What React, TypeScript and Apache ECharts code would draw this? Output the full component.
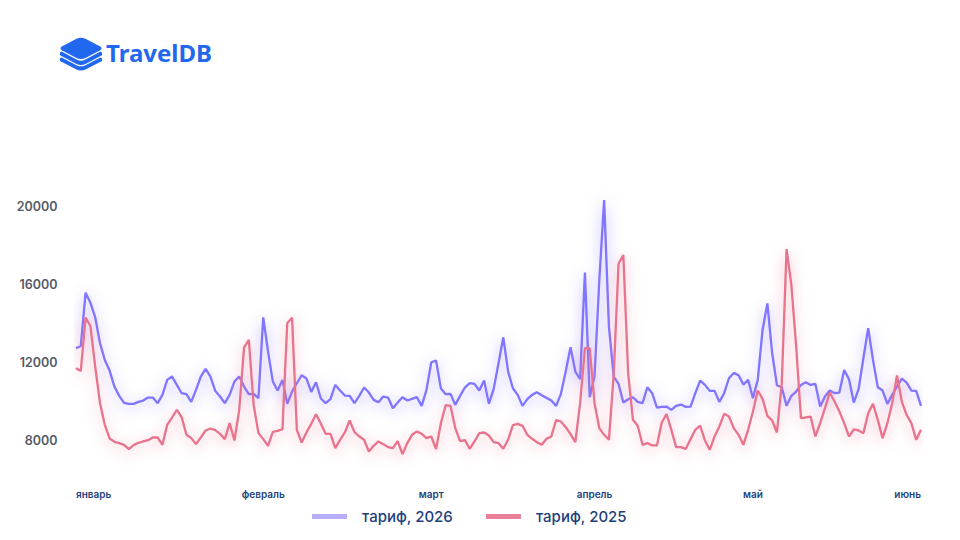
import React, { useEffect, useRef } from "react";
import * as echarts from "echarts";

const tariff2026 = [
  12735, 12854, 15574, 15064, 14316, 12990, 12140, 11596, 10780, 10304, 9947, 9896, 9896, 9998, 10066, 10219, 10219, 9930, 10355, 11120,
  11290, 10865, 10440, 10389, 9998, 10610, 11290, 11681, 11290, 10559, 10270, 9930, 10355, 11035, 11290, 10780, 10389, 10406, 10185, 14316,
  12565, 11035, 10576, 11120, 9896, 10525, 10950, 11358, 11188, 10508, 11001, 10168, 9930, 10134, 10865, 10576, 10321, 10304, 9930, 10304,
  10729, 10474, 10100, 9981, 10270, 10219, 9675, 9964, 10236, 10066, 10151, 10236, 9794, 10610, 12021, 12106, 10678, 10389, 10406, 9845,
  10304, 10729, 10950, 10916, 10576, 11086, 9896, 10661, 11970, 13296, 11545, 10695, 10355, 9794, 10134, 10355, 10491, 10338, 10202, 10066,
  9794, 10406, 11545, 12786, 11545, 11154, 16600, 10236, 11290, 16220, 20300, 13840, 11290, 10916, 9964, 10134, 10236, 9998, 9930, 10746,
  10440, 9709, 9743, 9760, 9590, 9794, 9862, 9743, 9760, 10440, 11086, 10865, 10559, 10559, 9998, 10440, 11205, 11477, 11358, 10882,
  11120, 10185, 11120, 13670, 15030, 12480, 10848, 10746, 9794, 10304, 10525, 10865, 11001, 10865, 10916, 9760, 10270, 10576, 10440, 10474,
  11630, 11154, 9964, 10644, 12225, 13755, 12140, 10746, 10576, 9896, 10355, 10780, 11188, 10984, 10576, 10559, 9794,
];

const tariff2025 = [
  11715, 11579, 14299, 13874, 11800, 9930, 8825, 8128, 7958, 7890, 7805, 7584, 7788, 7907, 7975, 8043, 8179, 8179, 7805, 8825,
  9199, 9590, 9216, 8315, 8145, 7839, 8179, 8536, 8638, 8553, 8366, 8094, 8910, 8026, 9590, 12769, 13160, 9845, 8400, 8094,
  7754, 8468, 8519, 8604, 14010, 14299, 8570, 7924, 8434, 8876, 9369, 8876, 8366, 8366, 7635, 8060, 8434, 9046, 8451, 8230,
  8060, 7465, 7754, 7975, 7839, 7686, 7635, 7992, 7329, 7890, 8315, 8485, 8366, 8145, 8230, 7584, 8910, 9828, 9794, 8655,
  7992, 8043, 7601, 7975, 8400, 8434, 8281, 7941, 7890, 7601, 8060, 8808, 8876, 8774, 8315, 8111, 7941, 7805, 8111, 8230,
  9063, 8995, 8706, 8349, 7941, 9930, 12735, 12735, 9930, 8655, 8315, 8060, 11400, 17050, 17500, 11460, 9080, 8774, 7805, 7890,
  7771, 7771, 8944, 9369, 8570, 7686, 7686, 7601, 8094, 8570, 8791, 8026, 7550, 8230, 8740, 9386, 9250, 8655, 8315, 7805,
  8570, 9505, 10576, 10151, 9284, 9046, 8434, 10950, 17800, 15967, 12820, 9165, 9200, 9250, 8230, 8910, 9675, 10474, 10015, 9505,
  8910, 8230, 8587, 8536, 8400, 9420, 9896, 9080, 8145, 8910, 9930, 11341, 10015, 9335, 8910, 8060, 8570,
];

const monthIndexes = [0, 39, 74, 108, 141, 176];
const monthNames = ["январь", "февраль", "март", "апрель", "май", "июнь"];
const categories = tariff2026.map((_, i) => {
  const at = monthIndexes.indexOf(i);
  return at >= 0 ? monthNames[at] : "";
});

const seriesNames = ["тариф, 2026", "тариф, 2025"];

const LOGO_TOP =
  "M76.5 38.8 Q81 36.9 85.5 38.8 L100.2 46.6 Q103 48.4 100.2 50.2 L85.5 58 Q81 60 76.5 58 L61.8 50.2 Q59 48.4 61.8 46.6 Z";
const LOGO_MID =
  "M60 52.4 L61.6 51.6 L77 59.8 Q81 61.6 85 59.8 L100.4 51.6 L102 52.4 L102 55.2 L85.5 64 Q81 66 76.5 64 L60 55.2 Z";
const LOGO_LOW =
  "M60 58.2 L61.6 57.4 L77 65.4 Q81 67.2 85 65.4 L100.4 57.4 L102 58.2 L102 61 L85.5 69.6 Q81 71.6 76.5 69.6 L60 61 Z";

echarts.graphic.registerShape("logoTop", echarts.graphic.extendPath(LOGO_TOP as any, {}));
echarts.graphic.registerShape("logoMid", echarts.graphic.extendPath(LOGO_MID as any, {}));
echarts.graphic.registerShape("logoLow", echarts.graphic.extendPath(LOGO_LOW as any, {}));

export default function App() {
  const ref = useRef<HTMLDivElement>(null);
  useEffect(() => {
    const chart = echarts.init(ref.current!, undefined, { renderer: "svg" });
    const lineStyle = (color: string, glow: string) => ({
      color,
      width: 2.3,
      shadowColor: glow,
      shadowBlur: 14,
      shadowOffsetY: 3,
    });
    chart.setOption({
      animation: false,
      backgroundColor: "#ffffff",
      textStyle: { fontFamily: "Inter" },
      graphic: [
        { type: "logoTop", x: 0, y: 0, style: { fill: "#2268ee" } },
        { type: "logoMid", x: 0, y: 0, style: { fill: "#2268ee" } },
        { type: "logoLow", x: 0, y: 0, style: { fill: "#2268ee" } },
        {
          type: "text",
          left: 106,
          top: 40,
          style: {
            text: "TravelDB",
            fill: "#2268ee",
            font: "700 24px 'Noto Sans'",
          },
        },
      ],
      legend: {
        left: 307,
        top: 504,
        itemWidth: 35,
        itemHeight: 5,
        itemGap: 33,
        icon: "rect",
        selectedMode: false,
        textStyle: {
          color: "#1d3f7c",
          fontSize: 15,
          fontWeight: 500,
          fontFamily: "Inter",
          padding: [0, 0, 0, 10],
        },
        data: [
          { name: seriesNames[0], itemStyle: { color: "#b8aeff" } },
          { name: seriesNames[1], itemStyle: { color: "#e8809a" } },
        ],
      },
      grid: { left: 76, right: 39, top: 166.85, height: 313.3, containLabel: false },
      xAxis: {
        type: "category",
        boundaryGap: false,
        data: categories,
        axisLine: { show: false },
        axisTick: { show: false },
        axisLabel: {
          interval: 0,
          margin: 9,
          color: "#1d3f7c",
          fontSize: 10,
          fontWeight: 600,
          fontFamily: "Inter",
          alignMinLabel: "left",
          alignMaxLabel: "right",
        },
      },
      yAxis: {
        type: "value",
        min: 6000,
        max: 22000,
        interval: 2000,
        splitLine: { show: false },
        axisLine: { show: false },
        axisTick: { show: false },
        axisLabel: {
          margin: 18.5,
          color: "#555a66",
          fontSize: 12.5,
          fontWeight: 600,
          fontFamily: "Inter",
          formatter: (v: number) => (v % 4000 === 0 && v <= 20000 ? String(v) : ""),
        },
      },
      series: [
        {
          name: seriesNames[0],
          type: "line",
          data: tariff2026,
          symbol: "none",
          lineStyle: lineStyle("#8074ff", "rgba(128,116,255,0.65)"),
          itemStyle: { color: "#b8aeff" },
        },
        {
          name: seriesNames[1],
          type: "line",
          data: tariff2025,
          symbol: "none",
          lineStyle: lineStyle("#e9738c", "rgba(233,115,140,0.65)"),
          itemStyle: { color: "#e8809a" },
        },
      ],
    });
    return () => chart.dispose();
  }, []);
  return (
    <div
      ref={ref}
      style={{ position: "absolute", left: 0, top: 0, width: 960, height: 540 }}
    />
  );
}
